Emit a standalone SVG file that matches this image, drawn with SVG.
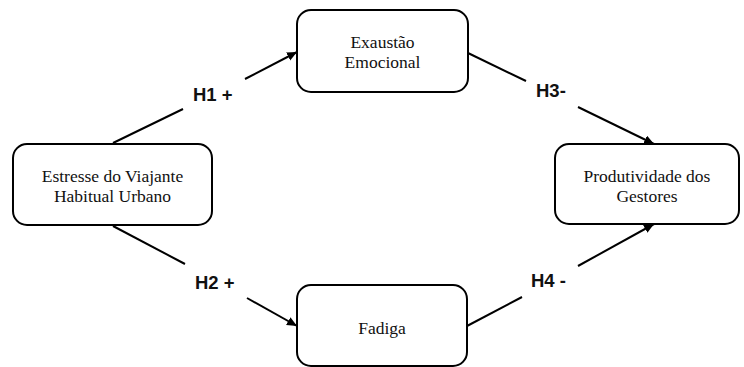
<svg xmlns="http://www.w3.org/2000/svg" width="744" height="367" viewBox="0 0 744 367">
<style>
.box{fill:#fff;stroke:#000;stroke-width:2}
.nt{font-family:"Liberation Serif","Times New Roman",serif;font-size:17.5px;fill:#111;text-anchor:middle}
.lbl{font-family:"Liberation Sans",Arial,sans-serif;font-weight:bold;font-size:18.5px;fill:#111}
.ln{stroke:#000;stroke-width:2;fill:none}
</style>
<defs>
<marker id="ah" markerUnits="userSpaceOnUse" markerWidth="12" markerHeight="10" refX="10" refY="4.5" orient="auto">
<path d="M0,0 L10,4.5 L0,9 Z" fill="#000"/>
</marker>
</defs>
<rect width="744" height="367" fill="#fff"/>
<g id="connectors">
<line class="ln" x1="113" y1="143" x2="183" y2="109"/>
<line class="ln" x1="245" y1="79" x2="297" y2="52" marker-end="url(#ah)"/>
<line class="ln" x1="113" y1="226" x2="185" y2="264"/>
<line class="ln" x1="247" y1="298" x2="297" y2="326" marker-end="url(#ah)"/>
<line class="ln" x1="468" y1="53" x2="526" y2="81"/>
<line class="ln" x1="578" y1="107" x2="654" y2="144" marker-end="url(#ah)"/>
<line class="ln" x1="467" y1="326" x2="522" y2="297"/>
<line class="ln" x1="578" y1="266" x2="654" y2="224" marker-end="url(#ah)"/>
<text class="lbl" x="193" y="101">H1 +</text>
<text class="lbl" x="195" y="289">H2 +</text>
<text class="lbl" x="536" y="97">H3-</text>
<text class="lbl" x="531" y="287">H4 -</text>
</g>
<g id="estresse">
<rect class="box" x="13" y="144" width="199" height="81" rx="14"/>
<text class="nt" x="112.5" y="181.5">Estresse do Viajante</text>
<text class="nt" x="112.5" y="201.5">Habitual Urbano</text>
</g>
<g id="exaustao">
<rect class="box" x="297" y="10" width="171" height="82" rx="14"/>
<text class="nt" x="382.5" y="47.5">Exaustão</text>
<text class="nt" x="382.5" y="68">Emocional</text>
</g>
<g id="produtividade">
<rect class="box" x="555" y="144" width="184" height="80" rx="14"/>
<text class="nt" x="647" y="181.5">Produtividade dos</text>
<text class="nt" x="647" y="201.5">Gestores</text>
</g>
<g id="fadiga">
<rect class="box" x="297" y="285" width="170" height="81" rx="14"/>
<text class="nt" x="382" y="334">Fadiga</text>
</g>
</svg>
